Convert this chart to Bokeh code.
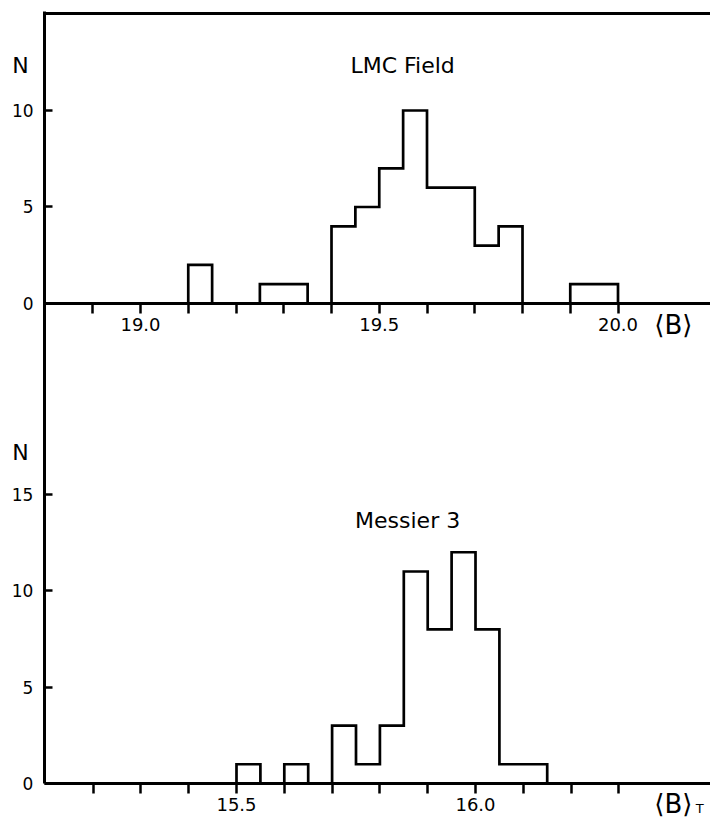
from bokeh.plotting import figure
from bokeh.models import Range1d, LinearAxis, FixedTicker, PrintfTickFormatter, Label
from bokeh.embed import file_html
from bokeh.resources import INLINE

# ---------------- data ----------------
lmc_bin_start = 19.10
lmc_bin_width = 0.05
lmc_counts = [2, 0, 0, 1, 1, 0, 4, 5, 7, 10, 6, 6, 3, 4, 0, 0, 1, 1]

m3_bin_start = 15.50
m3_bin_width = 0.05
m3_counts = [1, 0, 1, 0, 3, 1, 3, 11, 8, 12, 8, 1, 1]

lmc_xticks_major = [19.0, 19.5, 20.0]
lmc_xticks_minor = [18.9, 19.1, 19.2, 19.3, 19.4, 19.6, 19.7, 19.8, 19.9]
lmc_yticks = [0, 5, 10]

m3_xticks_major = [15.5, 16.0]
m3_xticks_minor = [15.2, 15.3, 15.4, 15.6, 15.7, 15.8, 15.9, 16.1, 16.2, 16.3]
m3_yticks = [0, 5, 10, 15]

FONT = "DejaVu Sans"

# panel geometry (data units of each panel)
LMC_X0, LMC_X1 = 18.799, 20.1937
M3_X0, M3_X1 = 15.098, 16.4916
LMC_TOP = 15.03
M3_LEFT_TOP = 40.04


def outline(start, width, counts):
    edges = [round(start + i * width, 4) for i in range(len(counts) + 1)]
    xs = [edges[0]] + edges
    ys = [0] + list(counts) + [0]
    return xs, ys


p = figure(width=710, height=820,
           x_range=Range1d(15.0063, 16.4916), y_range=Range1d(-1.92, 40.63),
           output_backend="svg", toolbar_location=None,
           x_axis_location=None, y_axis_location=None,
           min_border_left=0, min_border_right=0, min_border_top=0, min_border_bottom=0)
p.extra_x_ranges = {"lmc": Range1d(18.7068, 20.1937)}
p.extra_y_ranges = {"lmc": Range1d(-26.79, 15.70)}
p.outline_line_color = None
p.background_fill_color = "white"
p.border_fill_color = "white"
for g in p.grid:
    g.visible = False


def style_x(ax):
    ax.axis_line_width = 3
    ax.axis_line_color = "black"
    ax.major_tick_in = 0
    ax.major_tick_out = 10
    ax.minor_tick_in = 0
    ax.minor_tick_out = 10
    ax.major_tick_line_width = 2.5
    ax.minor_tick_line_width = 2.5
    ax.major_tick_line_color = "black"
    ax.minor_tick_line_color = "black"
    ax.major_label_standoff = 5
    ax.major_label_text_font = FONT
    ax.major_label_text_font_size = "18px"
    ax.major_label_text_color = "black"


def style_y(ax):
    ax.axis_line_width = 3
    ax.axis_line_color = "black"
    ax.major_tick_in = 8
    ax.major_tick_out = 0
    ax.major_tick_line_width = 2.5
    ax.major_tick_line_color = "black"
    ax.minor_tick_line_color = None
    ax.major_label_standoff = 11
    ax.major_label_text_font = FONT
    ax.major_label_text_font_size = "17px"
    ax.major_label_text_color = "black"


# ---- top panel axes (LMC field) ----
xa1 = LinearAxis(x_range_name="lmc", y_range_name="lmc", fixed_location=0,
                 bounds=(LMC_X0, LMC_X1),
                 ticker=FixedTicker(ticks=lmc_xticks_major, minor_ticks=lmc_xticks_minor),
                 formatter=PrintfTickFormatter(format="%.1f"))
style_x(xa1)
p.add_layout(xa1, "below")

ya1 = LinearAxis(x_range_name="lmc", y_range_name="lmc", fixed_location=LMC_X0,
                 ticker=FixedTicker(ticks=lmc_yticks), bounds=(0, LMC_TOP))
style_y(ya1)
ya1.axis_line_color = None
p.add_layout(ya1, "left")

top_border = LinearAxis(x_range_name="lmc", y_range_name="lmc", fixed_location=LMC_TOP,
                        bounds=(LMC_X0 - 0.003, LMC_X1), ticker=FixedTicker(ticks=[]))
top_border.axis_line_width = 3
top_border.axis_line_color = "black"
top_border.major_tick_line_color = None
top_border.minor_tick_line_color = None
top_border.major_label_text_font_size = "0px"
p.add_layout(top_border, "above")

# ---- bottom panel axes (Messier 3) ----
xa2 = LinearAxis(fixed_location=0, bounds=(M3_X0, M3_X1),
                 ticker=FixedTicker(ticks=m3_xticks_major, minor_ticks=m3_xticks_minor),
                 formatter=PrintfTickFormatter(format="%.1f"))
style_x(xa2)
p.add_layout(xa2, "below")

ya2 = LinearAxis(fixed_location=M3_X0, ticker=FixedTicker(ticks=m3_yticks),
                 bounds=(0, M3_LEFT_TOP))
style_y(ya2)
p.add_layout(ya2, "left")

# ---- histograms ----
xs, ys = outline(lmc_bin_start, lmc_bin_width, lmc_counts)
p.step(xs, ys, mode="after", line_color="black", line_width=2.7, line_join="miter",
       x_range_name="lmc", y_range_name="lmc")
xs, ys = outline(m3_bin_start, m3_bin_width, m3_counts)
p.step(xs, ys, mode="after", line_color="black", line_width=2.7, line_join="miter")


def lab(x, y, text, size, top=False):
    kw = dict(x_range_name="lmc", y_range_name="lmc") if top else {}
    p.add_layout(Label(x=x, y=y, text=text, text_font=FONT, text_font_size=size,
                       text_align="center", text_baseline="middle", text_color="black", **kw))


lab(18.7487, 12.33, "N", "22px", top=True)
lab(19.549, 12.33, "LMC Field", "22px", top=True)
lab(20.116, -1.14, "⟨B⟩", "26px", top=True)

lab(15.0481, 17.18, "N", "22px")
lab(15.858, 13.65, "Messier 3", "22px")
lab(16.414, -1.04, "⟨B⟩", "26px")
lab(16.469, -1.30, "T", "13px")

open("out.html", "w").write(file_html(p, INLINE))
